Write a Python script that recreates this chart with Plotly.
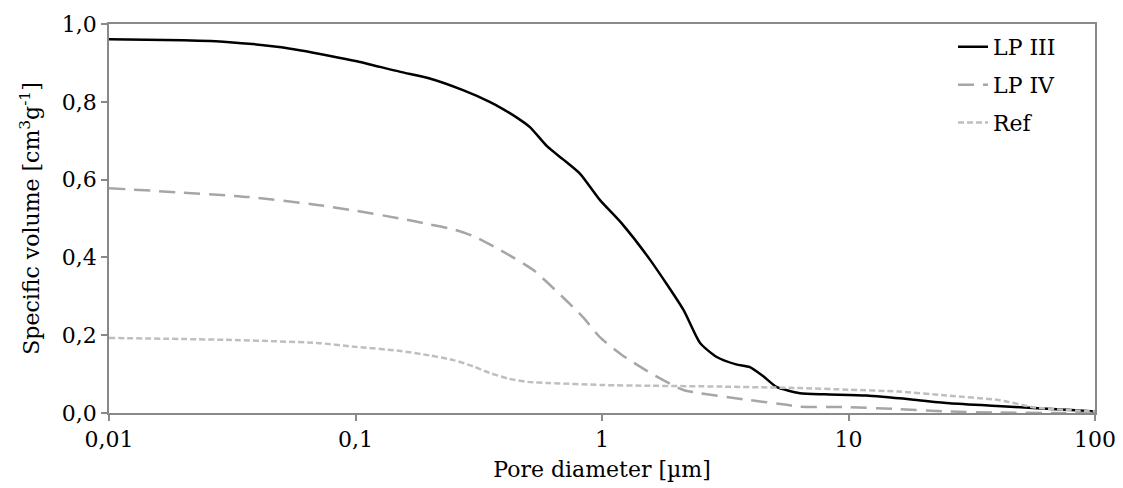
import plotly.graph_objects as go

# ---- data ----
lp3_x = [0.01, 0.02, 0.03, 0.05, 0.079, 0.1, 0.152, 0.2, 0.273, 0.35, 0.40, 0.45, 0.51,
         0.598, 0.695, 0.815, 0.98, 1.2, 1.57, 2.14, 2.5, 2.92, 3.5, 3.98, 4.5, 5.1,
         6.35, 8, 11.8, 18, 25.7, 40, 56, 80, 100]
lp3_y = [0.961, 0.958, 0.954, 0.94, 0.918, 0.905, 0.877, 0.86, 0.83, 0.80, 0.78, 0.76, 0.735,
         0.686, 0.652, 0.615, 0.548, 0.488, 0.393, 0.265, 0.18, 0.144, 0.125, 0.118, 0.095, 0.067,
         0.051, 0.048, 0.045, 0.035, 0.025, 0.018, 0.013, 0.008, 0.004]

lp4_x = [0.01, 0.037, 0.07, 0.1, 0.152, 0.2, 0.25, 0.3, 0.386, 0.525, 0.835, 0.98, 1.2, 1.57,
         2.14, 2.5, 3.98, 5.5, 6.35, 10, 16, 25, 41, 70, 100]
lp4_y = [0.578, 0.555, 0.535, 0.52, 0.50, 0.485, 0.472, 0.455, 0.419, 0.368, 0.247, 0.195, 0.15,
         0.103, 0.059, 0.051, 0.033, 0.022, 0.016, 0.015, 0.01, 0.004, 0.001, 0.0, 0.0]

ref_x = [0.01, 0.03, 0.07, 0.1, 0.15, 0.2, 0.25, 0.3, 0.35, 0.42, 0.5, 0.61, 1.0, 1.57, 3,
         6.35, 10, 16, 25, 41, 56, 75, 100]
ref_y = [0.193, 0.188, 0.18, 0.17, 0.16, 0.148, 0.136, 0.12, 0.103, 0.088, 0.08, 0.077, 0.072,
         0.07, 0.068, 0.064, 0.06, 0.055, 0.045, 0.033, 0.015, 0.008, 0.004]

series_names = ["LP III", "LP IV", "Ref"]

x_tickvals = [0.01, 0.1, 1, 10, 100]
x_ticktext = ["0,01", "0,1", "1", "10", "100"]
y_tickvals = [0.0, 0.2, 0.4, 0.6, 0.8, 1.0]
y_ticktext = ["0,0", "0,2", "0,4", "0,6", "0,8", "1,0"]

FONT = "DejaVu Serif"
FS = 22
AXIS = "#898989"

fig = go.Figure()
fig.add_trace(go.Scatter(x=lp3_x, y=lp3_y, mode="lines", name=series_names[0], legend="legend",
                         line=dict(color="black", width=2.5, shape="spline", smoothing=0.6)))
fig.add_trace(go.Scatter(x=lp4_x, y=lp4_y, mode="lines", name=series_names[1], legend="legend2",
                         line=dict(color="#A6A6A6", width=2.5, dash="16px,9px",
                                   shape="spline", smoothing=0.6)))
fig.add_trace(go.Scatter(x=ref_x, y=ref_y, mode="lines", name=series_names[2], legend="legend3",
                         line=dict(color="#BFBFBF", width=2.5, dash="6px,3px",
                                   shape="spline", smoothing=0.6)))

leg_common = dict(x=0.856, xanchor="left", yanchor="middle", bgcolor="rgba(0,0,0,0)",
                  font=dict(size=FS, family=FONT, color="black"))
# page body has an 8px default margin, so the figure is sized to fit inside it
fig.update_layout(
    width=1115, height=480,
    margin=dict(l=101, r=28, t=16, b=75),
    paper_bgcolor="white", plot_bgcolor="white",
    font=dict(family=FONT, size=FS, color="black"),
    showlegend=True,
    legend=dict(y=0.941, **leg_common),
    legend2=dict(y=0.843, **leg_common),
    legend3=dict(y=0.746, **leg_common),
)
fig.update_xaxes(
    type="log", range=[-2, 2], automargin=False,
    tickvals=x_tickvals, ticktext=x_ticktext,
    showgrid=False, zeroline=False,
    showline=True, linecolor=AXIS, linewidth=2, mirror=True,
    ticks="outside", ticklen=6, tickcolor=AXIS, tickwidth=1.5,
    tickfont=dict(size=FS, family=FONT),
    title=dict(text="Pore diameter [µm]", font=dict(size=FS, family=FONT), standoff=10),
)
fig.update_yaxes(
    range=[0, 1.0], automargin=False,
    tickvals=y_tickvals, ticktext=y_ticktext,
    showgrid=False, zeroline=False,
    showline=True, linecolor=AXIS, linewidth=1.5, mirror=True,
    ticks="outside", ticklen=6, tickcolor=AXIS, tickwidth=1.5,
    tickfont=dict(size=FS, family=FONT),
    title=dict(text="Specific volume [cm<sup>3</sup>g<sup>-1</sup>]",
               font=dict(size=FS, family=FONT), standoff=16),
)

fig.write_html("out.html")
